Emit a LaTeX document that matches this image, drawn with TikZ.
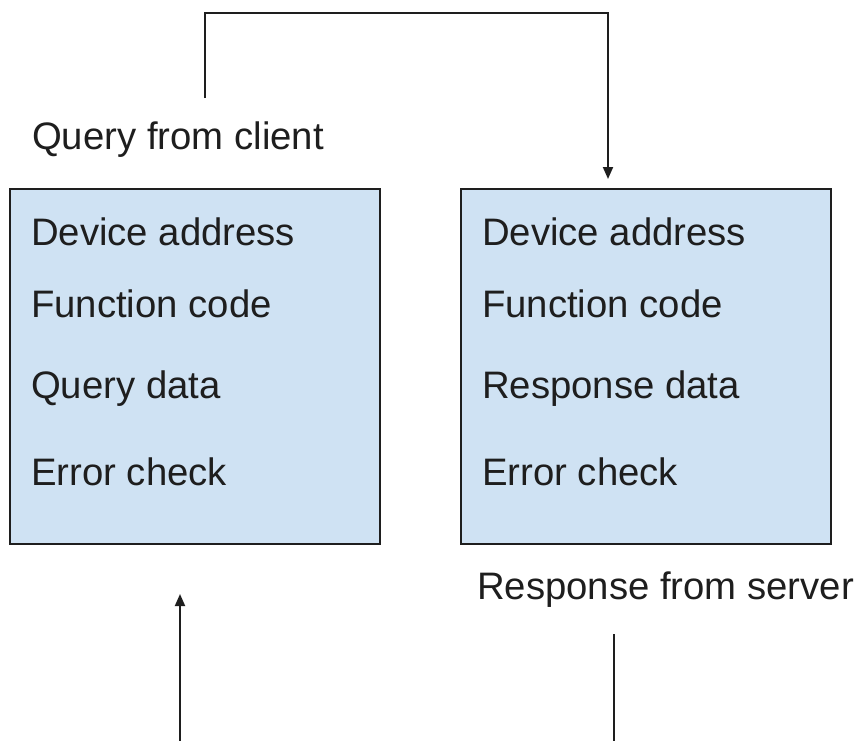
\documentclass[tikz,border=0pt]{standalone}
\usepackage{fontspec}
\setmainfont{Liberation Sans}
\usetikzlibrary{arrows.meta}
\definecolor{framefill}{HTML}{CFE2F3}
\definecolor{ink}{HTML}{1E1E1E}
\tikzset{
  frame/.style={draw=ink, line width=1.9pt, fill=framefill, rectangle,
    minimum width=370pt, minimum height=355pt, inner sep=0pt},
  field/.style={anchor=base west, inner sep=0pt, text=ink,
    font=\fontsize{38.3}{46}\selectfont},
  wire/.style={draw=ink, line width=1.9pt},
  arrowwire/.style={wire, -{Triangle[length=12pt,width=10pt]}}
}
\begin{document}
\begin{tikzpicture}[x=1pt,y=-1pt]
\useasboundingbox (0,0) rectangle (862,740);

% the two message frames
\node[frame] (query) at (195,366.5) {};
\node[frame] (resp)  at (646,366.5) {};

% fields of the query frame
\node[field] (q1) at (31,245) {Device address};
\node[field] (q2) at (31,317) {Function code};
\node[field] (q3) at (31,398) {Query data};
\node[field] (q4) at (31,485) {Error check};

% fields of the response frame
\node[field] (r1) at (482,245) {Device address};
\node[field] (r2) at (482,317) {Function code};
\node[field] (r3) at (482,398) {Response data};
\node[field] (r4) at (482,485) {Error check};

% captions
\node[field] (qcap) at (32,149) {Query from client};
\node[field] (rcap) at (477,599) {Response from server};

% connector end points
\coordinate (qstart) at (205,98);
\coordinate (qend)   at (608,179);
\coordinate (cin)    at (180,741);
\coordinate (cinend) at (180,594);
\coordinate (rstart) at (614,634);
\coordinate (rout)   at (614,741);

% query travels over the top into the response frame
\draw[arrowwire] (qstart) |- (qend |- 0,13) -- (qend);

% query entering from below
\draw[arrowwire] (cin) -- (cinend);

% response leaving downward
\draw[wire] (rstart) -- (rout);
\end{tikzpicture}
\end{document}
